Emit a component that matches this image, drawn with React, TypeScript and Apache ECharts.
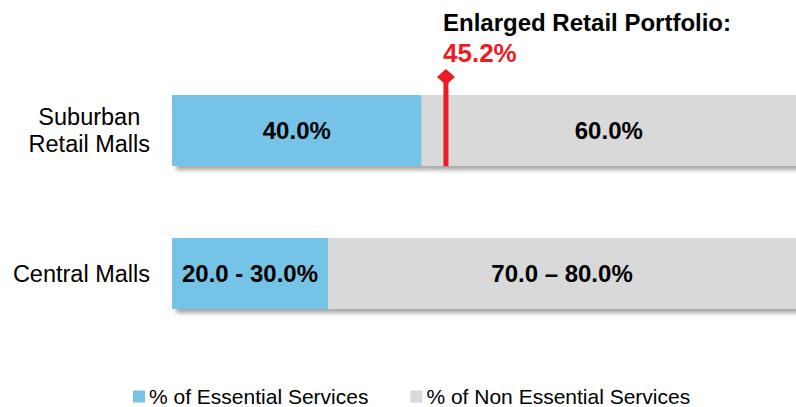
import React, { useEffect, useRef } from "react";
import * as echarts from "echarts";

const categories = ["Suburban Retail Malls", "Central Malls"];
const essentialValues = [40, 25];
const nonEssentialValues = [60, 75];
const essentialLabels = ["40.0%", "20.0 - 30.0%"];
const nonEssentialLabels = ["60.0%", "70.0 – 80.0%"];
const seriesNames = ["% of Essential Services", "% of Non Essential Services"];
const markerPosition = [43.9];
const markerTitle = "Enlarged Retail Portfolio:";
const markerValueLabel = "45.2%";

const FONT = "'Liberation Sans', Arial, Helvetica, sans-serif";
const BLUE = "#75C4E8";
const GREY = "#D9D9D9";
const RED = "#ED1C24";

export default function App() {
  const ref = useRef<HTMLDivElement>(null);

  useEffect(() => {
    if (!ref.current) return;
    const chart = echarts.init(ref.current, null, { renderer: "svg" });

    const shadow = {
      shadowColor: "rgba(0,0,0,0.35)",
      shadowBlur: 4,
      shadowOffsetX: 4,
      shadowOffsetY: 4,
    };

    const labelStyle = {
      show: true,
      position: "inside",
      color: "#000",
      fontFamily: FONT,
      fontWeight: "bold",
      fontSize: 24,
    };

    const option: any = {
      animation: false,
      backgroundColor: "#fff",
      textStyle: { fontFamily: FONT },
      grid: { left: 172, top: 59, width: 627, height: 286, containLabel: false },
      xAxis: {
        type: "value",
        min: 0,
        max: 100,
        show: false,
      },
      yAxis: {
        type: "category",
        data: categories,
        inverse: true,
        axisLine: { show: false },
        axisTick: { show: false },
        splitLine: { show: false },
        axisLabel: {
          margin: 22,
          align: "right",
          color: "#000",
          fontFamily: FONT,
          fontSize: 23.5,
          lineHeight: 27,
          formatter: (v: string) => {
            if (v === "Suburban Retail Malls") return "{c|Suburban}\n{c|Retail Malls}";
            return "{c|" + v + "}";
          },
          rich: {
            c: {
              align: "center",
              color: "#000",
              fontFamily: FONT,
              fontSize: 23.5,
              lineHeight: 27,
            },
          },
        },
      },
      legend: {
        data: seriesNames,
        left: 133,
        top: 386,
        padding: 0,
        itemWidth: 12,
        itemHeight: 12,
        itemGap: 42,
        icon: "rect",
        textStyle: { color: "#000", fontFamily: FONT, fontSize: 21, padding: [0, 0, 0, -1] },
      },
      series: [
        {
          name: seriesNames[0],
          type: "bar",
          stack: "total",
          barWidth: 71,
          data: essentialValues,
          itemStyle: { color: BLUE, ...shadow },
          label: { ...labelStyle, formatter: (p: any) => essentialLabels[p.dataIndex] },
        },
        {
          name: seriesNames[1],
          type: "bar",
          stack: "total",
          barWidth: 71,
          data: nonEssentialValues,
          itemStyle: { color: GREY, ...shadow },
          label: { ...labelStyle, formatter: (p: any) => nonEssentialLabels[p.dataIndex] },
        },
        {
          name: "marker",
          type: "custom",
          z: 10,
          clip: false,
          data: markerPosition.map((v) => [v, 0]),
          renderItem: (params: any, api: any) => {
            const pt = api.coord([api.value(0), api.value(1)]);
            const band = api.size([0, 1])[1];
            const x = pt[0];
            const bottom = pt[1] + band * 0.25;
            const top = pt[1] - band * 0.375;
            return {
              type: "group",
              children: [
                {
                  type: "line",
                  shape: { x1: x, y1: top, x2: x, y2: bottom },
                  style: { stroke: RED, lineWidth: 5 },
                },
                {
                  type: "polygon",
                  shape: { points: [[x, top - 8], [x + 9, top], [x, top + 8], [x - 9, top]] },
                  style: { fill: RED },
                },
              ],
            };
          },
        },
      ],
      graphic: [
        {
          type: "text",
          left: 443,
          top: 10,
          style: {
            text: markerTitle,
            fill: "#000",
            font: `bold 24px ${FONT}`,
          },
        },
        {
          type: "text",
          left: 443,
          top: 40,
          style: {
            text: markerValueLabel,
            fill: RED,
            font: `bold 26px ${FONT}`,
          },
        },
      ],
    };

    chart.setOption(option);
    return () => chart.dispose();
  }, []);

  return (
    <div
      ref={ref}
      style={{ position: "fixed", left: 0, top: 0, width: 796, height: 407 }}
    />
  );
}
